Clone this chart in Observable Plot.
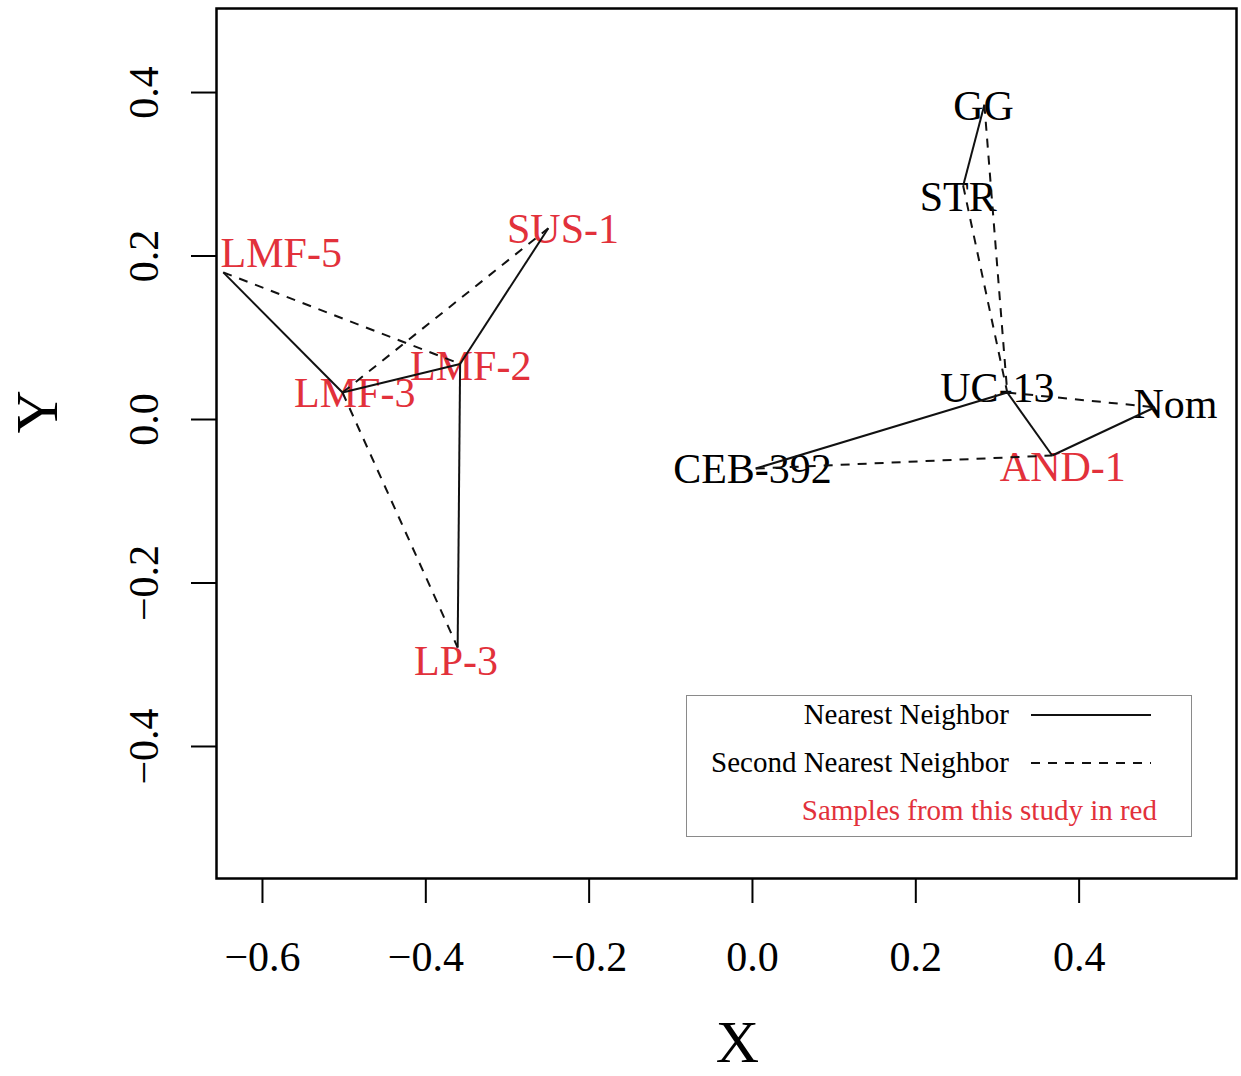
<!DOCTYPE html>
<html><head><meta charset="utf-8">
<script src="https://cdn.jsdelivr.net/npm/d3@7"></script>
<script src="https://cdn.jsdelivr.net/npm/@observablehq/plot@0.6"></script>
<style>
body{margin:0;background:#fff;}
#wrap{position:relative;width:1241px;height:1076px;font-family:"Liberation Serif","Times New Roman",serif;}
#legend{position:absolute;left:686px;top:695px;width:506px;height:142px;border:1.5px solid #8a8a8a;box-sizing:border-box;background:#fff;}
.txt{position:absolute;left:0;font-size:29px;line-height:29px;text-align:right;white-space:nowrap;}
.smp{position:absolute;left:344px;width:120px;height:6px;}
</style></head>
<body><div id="wrap"></div>
<script>
// ---- data ----
const sampleNames = ["LMF-5","SUS-1","LMF-3","LMF-2","LP-3","GG","STR","UC-13","Nom","AND-1","CEB-392"];
const sampleX = [-0.648,-0.250,-0.502,-0.358,-0.361,0.284,0.258,0.312,0.493,0.367,0.004];
const sampleY = [0.180,0.234,0.033,0.068,-0.279,0.385,0.286,0.033,0.015,-0.044,-0.060];
const labelX = [-0.577,-0.232,-0.487,-0.345,-0.363,0.283,0.252,0.300,0.518,0.380,0.000];
const labelY = [0.203,0.232,0.032,0.065,-0.296,0.383,0.272,0.038,0.018,-0.059,-0.061];
const fromThisStudy = [true,true,true,true,true,false,false,false,false,true,false];
const nearestFrom = ["LMF-5","LMF-3","LMF-2","LMF-2","GG","UC-13","UC-13","AND-1"];
const nearestTo   = ["LMF-3","LMF-2","SUS-1","LP-3","STR","CEB-392","AND-1","Nom"];
const secondFrom = ["LMF-5","LMF-3","LMF-3","GG","STR","UC-13","CEB-392"];
const secondTo   = ["LMF-2","SUS-1","LP-3","UC-13","UC-13","Nom","AND-1"];
const xTicks = [-0.6,-0.4,-0.2,0.0,0.2,0.4];
const yTicks = [-0.4,-0.2,0.0,0.2,0.4];
const legendLabels = ["Nearest Neighbor","Second Nearest Neighbor","Samples from this study in red"];

// ---- build ----
const RED = "#e2313b";
const pts = sampleNames.map((n,i)=>({name:n,x:sampleX[i],y:sampleY[i],lx:labelX[i],ly:labelY[i],red:fromThisStudy[i]}));
const byName = Object.fromEntries(pts.map(p=>[p.name,p]));
const nearest = nearestFrom.map((f,i)=>({a:byName[f],b:byName[nearestTo[i]]}));
const second = secondFrom.map((f,i)=>({a:byName[f],b:byName[secondTo[i]]}));
const fmt = d => (d < 0 ? "\u2212" : "") + Math.abs(d).toFixed(1);
const linkOpts = {x1:d=>d.a.x,y1:d=>d.a.y,x2:d=>d.b.x,y2:d=>d.b.y,stroke:"#111",strokeWidth:2};

const chart = Plot.plot({
  width:1241, height:1076, marginLeft:216, marginRight:5, marginTop:8, marginBottom:198,
  style:{fontFamily:"'Liberation Serif', 'Times New Roman', serif", background:"white", color:"black"},
  x:{domain:[-0.6563,0.5927]}, y:{domain:[-0.5615,0.5028]},
  marks:[
    Plot.text(pts.filter(p=>p.red),{x:"lx",y:"ly",text:"name",fill:RED,fontSize:42,lineAnchor:"middle"}),
    Plot.text(pts.filter(p=>!p.red),{x:"lx",y:"ly",text:"name",fill:"black",fontSize:42,lineAnchor:"middle"}),
    Plot.link(second,{...linkOpts,strokeDasharray:"9,8"}),
    Plot.link(nearest,linkOpts),
    Plot.frame({stroke:"black",strokeWidth:2.5}),
    Plot.axisX({ticks:xTicks,tickFormat:fmt,tickSize:25,tickPadding:38,fontSize:42,label:null,strokeWidth:2}),
    Plot.axisY({ticks:yTicks,tickFormat:fmt,tickSize:25,tickPadding:34,tickRotate:-90,fontSize:42,label:null,strokeWidth:2}),
    Plot.text(["X"],{frameAnchor:"bottom",dx:11,dy:164,fontSize:60,lineAnchor:"middle",text:d=>d}),
    Plot.text(["Y"],{frameAnchor:"left",dx:-179,dy:-10,rotate:-90,fontSize:60,lineAnchor:"middle",text:d=>d})
  ]
});
const wrap = document.getElementById("wrap");
wrap.appendChild(chart);

// legend
const lg = document.createElement("div");
lg.id = "legend";
const rowsY = [19,67,115];
legendLabels.forEach((t,i)=>{
  const d = document.createElement("div");
  d.className = "txt";
  d.textContent = t;
  d.style.top = (rowsY[i]-15)+"px";
  d.style.width = (i===2 ? 470 : 322)+"px";
  if (i===2) d.style.color = RED;
  lg.appendChild(d);
  if (i<2){
    const s = document.createElementNS("http://www.w3.org/2000/svg","svg");
    s.setAttribute("class","smp");
    s.setAttribute("width","120"); s.setAttribute("height","6");
    s.style.top = (rowsY[i]-3)+"px";
    const l = document.createElementNS("http://www.w3.org/2000/svg","line");
    l.setAttribute("x1","0");l.setAttribute("x2","120");l.setAttribute("y1","3");l.setAttribute("y2","3");
    l.setAttribute("stroke","#111");l.setAttribute("stroke-width","2");
    if (i===1) l.setAttribute("stroke-dasharray","9,8");
    s.appendChild(l);
    lg.appendChild(s);
  }
});
wrap.appendChild(lg);
</script>
</body></html>
